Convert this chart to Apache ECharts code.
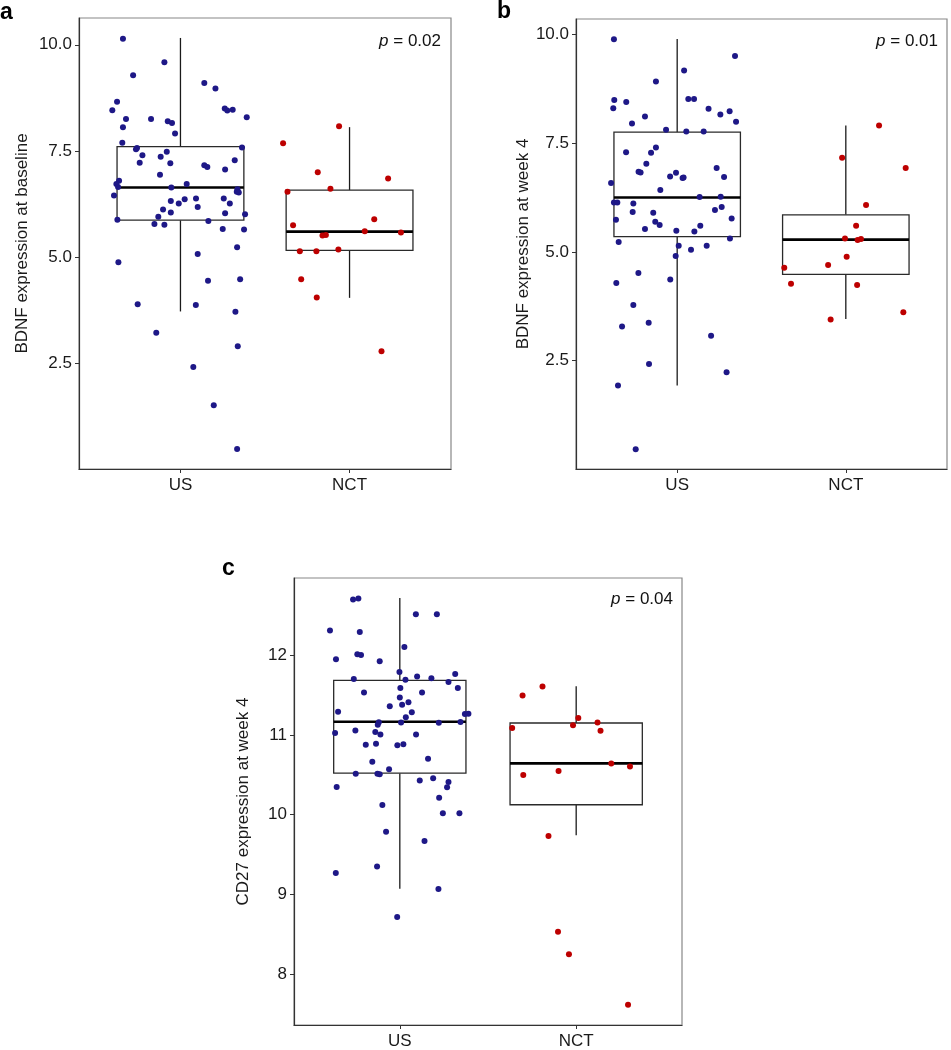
<!DOCTYPE html>
<html>
<head>
<meta charset="utf-8">
<script src="https://cdn.jsdelivr.net/npm/echarts@6/dist/echarts.min.js"></script>
<style>
  html, body { margin: 0; padding: 0; background: #fff; }
  #chart { width: 951px; height: 1050px; }
</style>
</head>
<body>
<div id="chart"></div>
<script>
// groups on the x axis
const groups = ['US', 'NCT'];

// y tick values
const ticksBdnf = [2.5, 5, 7.5, 10];
const ticksCd27 = [8, 9, 10, 11, 12];

// p values shown in the corner
const pValues = ['0.02', '0.01', '0.04'];

// box stats per group: [lower whisker, Q1, median, Q3, upper whisker]
const statsA = [[3.72, 5.87, 6.64, 7.60, 10.16], [4.04, 5.16, 5.60, 6.575, 8.06]];
const statsB = [[1.93, 5.35, 6.25, 7.75, 9.89], [3.455, 4.48, 5.28, 5.85, 7.90]];
const statsC = [[9.07, 10.52, 11.165, 11.686, 12.72], [9.74, 10.124, 10.644, 11.15, 11.61]];

// jittered points [x (group 1 / 2 + jitter), value]
const ptsA_US = [[0.660,10.14],[0.905,9.59],[0.720,9.28],[1.141,9.10],[1.207,8.97],[0.625,8.66],[0.597,8.46],[1.262,8.50],[1.277,8.45],[1.309,8.47],[1.392,8.29],[0.678,8.25],[0.826,8.25],[0.925,8.20],[0.950,8.16],[0.660,8.06],[0.968,7.91],[0.656,7.69],[0.737,7.54],[0.743,7.57],[0.919,7.48],[1.364,7.58],[0.775,7.40],[0.883,7.36],[0.759,7.22],[0.940,7.21],[1.141,7.16],[1.159,7.12],[1.321,7.28],[1.264,7.06],[0.879,6.94],[0.637,6.80],[0.621,6.72],[1.037,6.72],[0.946,6.64],[0.631,6.65],[1.337,6.60],[1.333,6.54],[1.345,6.52],[0.607,6.45],[0.943,6.32],[0.990,6.26],[1.025,6.36],[1.092,6.38],[1.256,6.38],[1.292,6.26],[0.897,6.12],[1.102,6.18],[0.943,6.05],[1.264,6.03],[1.382,6.01],[0.869,5.95],[0.627,5.88],[1.165,5.85],[0.846,5.78],[0.905,5.76],[1.250,5.66],[1.376,5.65],[0.633,4.88],[1.102,5.07],[1.335,5.23],[1.163,4.44],[1.353,4.48],[0.747,3.89],[1.091,3.87],[1.325,3.71],[0.857,3.22],[1.339,2.90],[1.076,2.41],[1.197,1.51],[1.335,0.48]];
const ptsA_NCT = [[1.938,8.08],[1.607,7.68],[1.812,7.00],[2.228,6.85],[1.887,6.61],[1.633,6.54],[2.146,5.89],[1.666,5.75],[2.090,5.61],[2.304,5.58],[1.840,5.51],[1.860,5.52],[1.706,5.14],[1.804,5.14],[1.934,5.18],[1.714,4.48],[1.806,4.05],[2.189,2.78]];

const ptsB_US = [[0.625,9.885],[1.041,9.164],[0.874,8.912],[1.343,9.502],[0.627,8.49],[0.621,8.30],[0.698,8.44],[1.066,8.51],[1.100,8.51],[1.186,8.285],[1.256,8.154],[1.311,8.232],[1.349,7.987],[0.809,8.108],[0.732,7.948],[0.934,7.803],[1.054,7.764],[1.157,7.764],[0.697,7.291],[0.874,7.397],[0.845,7.275],[0.817,7.022],[1.234,6.924],[0.771,6.839],[0.783,6.823],[0.993,6.816],[0.958,6.731],[1.032,6.694],[1.038,6.708],[1.278,6.717],[0.608,6.579],[0.900,6.419],[1.133,6.258],[1.258,6.265],[0.625,6.134],[0.645,6.134],[0.740,6.111],[1.264,6.028],[0.736,5.914],[0.858,5.898],[1.224,5.96],[1.323,5.767],[0.637,5.737],[0.870,5.691],[0.896,5.615],[1.137,5.599],[0.809,5.523],[0.995,5.484],[1.102,5.468],[1.313,5.308],[0.653,5.225],[1.009,5.14],[1.082,5.048],[1.175,5.14],[0.991,4.904],[0.770,4.513],[0.639,4.284],[0.959,4.366],[0.740,3.779],[0.673,3.287],[0.831,3.372],[1.201,3.074],[0.833,2.424],[1.293,2.231],[0.649,1.926],[0.754,0.464]];
const ptsB_NCT = [[2.197,7.902],[1.978,7.160],[2.355,6.924],[2.120,6.074],[2.061,5.599],[1.995,5.308],[2.070,5.271],[2.090,5.294],[2.005,4.887],[1.895,4.697],[1.635,4.635],[1.675,4.268],[2.067,4.238],[2.341,3.609],[1.910,3.448]];

const ptsC_US = [[0.735,12.70],[0.765,12.713],[1.091,12.514],[1.210,12.514],[0.604,12.311],[0.773,12.291],[1.026,12.104],[0.638,11.95],[0.759,12.012],[0.780,12.005],[0.886,11.925],[0.998,11.789],[0.739,11.702],[1.098,11.735],[1.179,11.711],[1.314,11.764],[1.276,11.665],[1.032,11.694],[1.003,11.59],[1.329,11.59],[0.797,11.533],[1.126,11.533],[1.000,11.471],[1.049,11.412],[0.943,11.359],[1.013,11.379],[0.650,11.292],[1.068,11.284],[1.369,11.263],[1.389,11.267],[1.034,11.222],[1.344,11.164],[0.881,11.160],[0.875,11.127],[1.007,11.155],[1.221,11.152],[0.633,11.024],[0.748,11.056],[0.861,11.036],[0.890,11.006],[1.092,11.006],[0.807,10.878],[0.865,10.891],[0.986,10.870],[1.020,10.882],[1.160,10.701],[0.844,10.663],[0.939,10.571],[0.750,10.514],[0.873,10.514],[0.886,10.506],[1.113,10.427],[1.189,10.456],[0.642,10.348],[1.276,10.410],[1.268,10.344],[1.223,10.211],[0.901,10.120],[1.244,10.017],[1.338,10.017],[0.922,9.785],[1.140,9.670],[0.637,9.267],[0.871,9.350],[1.219,9.068],[0.985,8.717]];
const ptsC_NCT = [[1.809,11.607],[1.696,11.496],[2.012,11.214],[1.982,11.123],[2.121,11.155],[2.138,11.052],[1.637,11.086],[2.199,10.642],[2.305,10.605],[1.700,10.497],[1.900,10.547],[1.843,9.732],[1.897,8.530],[1.959,8.248],[2.294,7.615]];

const FONT = "'Liberation Sans', Arial, sans-serif";
const BLUE = '#1e1887';
const RED = '#bd0000';
const HALF_BOX = 0.375;

let myChart = echarts.init(document.getElementById('chart'), null, { renderer: 'canvas' });

function xAxisFor(idx) {
    return {
        type: 'value', gridIndex: idx, min: 0.4, max: 2.6,
        axisLine: { show: true, lineStyle: { color: '#333', width: 1.2 } },
        axisTick: { show: true, length: 4, customValues: [1, 2], lineStyle: { color: '#333' } },
        axisLabel: {
            customValues: [1, 2], margin: 8, fontSize: 17, color: '#1a1a1a', fontFamily: FONT,
            formatter: v => groups[Math.round(v) - 1]
        },
        splitLine: { show: false }
    };
}

function yAxisFor(idx, name, min, max, ticks, digits, gap) {
    return {
        type: 'value', gridIndex: idx, min: min, max: max,
        name: name, nameLocation: 'middle', nameGap: gap,
        nameTextStyle: { fontSize: 17, color: '#1a1a1a', fontFamily: FONT },
        axisLine: { show: true, lineStyle: { color: '#333', width: 1.2 } },
        axisTick: { show: true, length: 4, customValues: ticks, lineStyle: { color: '#333' } },
        axisLabel: {
            customValues: ticks, margin: 7, fontSize: 17, color: '#1a1a1a', fontFamily: FONT,
            formatter: v => v.toFixed(digits)
        },
        splitLine: { show: false }
    };
}

// box + whiskers drawn through the axis scales
function renderBox(params, api) {
    const x = api.value(0);
    const lo = api.value(1), q1 = api.value(2), med = api.value(3), q3 = api.value(4), hi = api.value(5);
    const tl = api.coord([x - HALF_BOX, q3]);
    const br = api.coord([x + HALF_BOX, q1]);
    const mL = api.coord([x - HALF_BOX, med]);
    const mR = api.coord([x + HALF_BOX, med]);
    const top = api.coord([x, hi]);
    const bot = api.coord([x, lo]);
    const line = { stroke: '#1a1a1a', lineWidth: 1.3 };
    return {
        type: 'group',
        children: [
            { type: 'line', shape: { x1: top[0], y1: top[1], x2: top[0], y2: tl[1] }, style: line },
            { type: 'line', shape: { x1: bot[0], y1: bot[1], x2: bot[0], y2: br[1] }, style: line },
            { type: 'rect', shape: { x: tl[0], y: tl[1], width: br[0] - tl[0], height: br[1] - tl[1] },
              style: { fill: '#fff', stroke: '#2a2a2a', lineWidth: 1.3 } },
            { type: 'line', shape: { x1: mL[0], y1: mL[1], x2: mR[0], y2: mR[1] },
              style: { stroke: '#000', lineWidth: 2.6 } }
        ]
    };
}

function panelSeries(idx, stats, ptsUS, ptsNCT) {
    return [
        {
            type: 'custom', xAxisIndex: idx, yAxisIndex: idx, z: 2,
            renderItem: renderBox,
            encode: { x: 0, y: [1, 2, 3, 4, 5] },
            data: stats.map((s, i) => [i + 1].concat(s))
        },
        {
            type: 'scatter', xAxisIndex: idx, yAxisIndex: idx, z: 3,
            symbol: 'circle', symbolSize: 6, itemStyle: { color: BLUE, opacity: 1 },
            data: ptsUS
        },
        {
            type: 'scatter', xAxisIndex: idx, yAxisIndex: idx, z: 3,
            symbol: 'circle', symbolSize: 6, itemStyle: { color: RED, opacity: 1 },
            data: ptsNCT
        }
    ];
}

function pTitle(i, right, top) {
    return {
        text: '{i|p} = ' + pValues[i], right: right, top: top, padding: 0,
        textStyle: {
            fontSize: 17, fontWeight: 'normal', color: '#111', fontFamily: FONT,
            rich: { i: { fontStyle: 'italic', fontSize: 17, fontFamily: FONT, color: '#111' } }
        }
    };
}

function letter(t, left, top) {
    return { text: t, left: left, top: top, padding: 0,
             textStyle: { fontSize: 23, fontWeight: 'bold', color: '#000', fontFamily: FONT } };
}

var option = {
    backgroundColor: '#fff',
    animation: false,
    title: [
        letter('a', 0, 1),
        letter('b', 497, 0),
        letter('c', 222, 557),
        pTitle(0, 510, 33),
        pTitle(1, 13, 33),
        pTitle(2, 278, 591)
    ],
    grid: [
        { left: 79, top: 18, width: 372, height: 451, show: true, borderColor: '#888', borderWidth: 1.2 },
        { left: 576, top: 19, width: 371, height: 450, show: true, borderColor: '#888', borderWidth: 1.2 },
        { left: 294, top: 578, width: 388, height: 451, show: true, borderColor: '#888', borderWidth: 1.2 }
    ],
    xAxis: [xAxisFor(0), xAxisFor(1), xAxisFor(2)],
    yAxis: [
        yAxisFor(0, 'BDNF expression at baseline', 0.01, 10.63, ticksBdnf, 1, 48),
        yAxisFor(1, 'BDNF expression at week 4', 0.01, 10.35, ticksBdnf, 1, 44),
        yAxisFor(2, 'CD27 expression at week 4', 7.36, 12.97, ticksCd27, 0, 42)
    ],
    series: [].concat(
        panelSeries(0, statsA, ptsA_US, ptsA_NCT),
        panelSeries(1, statsB, ptsB_US, ptsB_NCT),
        panelSeries(2, statsC, ptsC_US, ptsC_NCT)
    )
};
myChart.setOption(option);
</script>
</body>
</html>
